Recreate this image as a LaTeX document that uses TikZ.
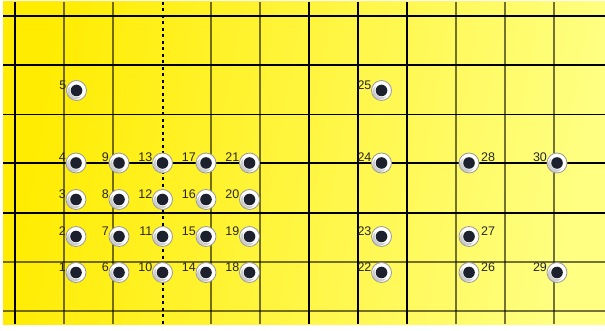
\documentclass[tikz,border=0pt]{standalone}
\usepackage{fontspec}
\setmainfont{Liberation Sans}
\usetikzlibrary{positioning}

\definecolor{plateleft}{RGB}{255,236,0}
\definecolor{platemid}{RGB}{255,252,85}
\definecolor{plateright}{RGB}{255,255,130}
\definecolor{holecore}{RGB}{28,33,45}

\begin{document}
\begin{tikzpicture}[
        x=1pt, y=-1pt,
        gridstrong/.style={
            draw=black,
            line width=1.1pt
        },
        gridfaint/.style={
            draw=black,
            draw opacity=0.55,
            line width=1.6pt
        },
        axisline/.style={
            draw=black,
            line width=2pt,
            dash pattern=on 3pt off 3.5pt
        },
        hole/.style={
            circle,
            draw=black!40,
            line width=0.8pt,
            fill=white,
            minimum size=20pt,
            inner sep=0pt,
            path picture={
                \fill[black!20] ([shift={(-1.6pt,-1.6pt)}]path picture bounding box.center) circle (7.5pt);
                \fill[white] ([shift={(0.8pt,0.8pt)}]path picture bounding box.center) circle (7.5pt);
                \fill[holecore] (path picture bounding box.center) circle (5.8pt);
            }
        },
        numlbl/.style={
            font=\fontsize{12.5}{12.5}\selectfont,
            inner sep=0pt,
            text=black!85
        }
    ]
    \useasboundingbox (0,0) rectangle (605,331);

    % plate
    \shade[left color=plateleft, middle color=platemid, right color=plateright, shading angle=80]
        (3,2) rectangle (605,324);

    % grid
    \foreach \gx in {64,113,211,260,456,505,554}
        \draw[gridfaint] (\gx,2) -- (\gx,324);
    \foreach \gx in {15,309,358,407}
        \draw[gridstrong] (\gx,2) -- (\gx,324);
    \foreach \gy in {262,311}
        \draw[gridfaint] (3,\gy) -- (605,\gy);
    \foreach \gy in {16,65,114.5,163,213}
        \draw[gridstrong] (3,\gy) -- (605,\gy);
    \draw[axisline] (162.5,2) -- (162.5,324);

    % holes, number at the left
    \foreach \n/\hx/\hy in {
        1/76/272.5, 2/76/236.5, 3/76/199.5, 4/76/163, 5/76.5/90.5,
        6/119/272.5, 7/119/236.5, 8/119/199.5, 9/119/163,
        10/162.5/272.5, 11/162.5/236.5, 12/162.5/199.5, 13/162.5/163,
        14/206/272.5, 15/206/236.5, 16/206/199.5, 17/206/163,
        18/249.5/272.5, 19/249.5/236.5, 20/249.5/199.5, 21/249.5/163,
        22/381.5/272.5, 23/381.5/236.5, 24/381.5/163, 25/381.5/90.5,
        29/557/272.5, 30/557/163}
        \node[hole, label={[numlbl, anchor=south east, xshift=0.5pt, yshift=1pt]west:\n}] (h\n) at (\hx,\hy) {};

    % holes, number at the right
    \foreach \n/\hx/\hy in {26/469/272.5, 27/469/236.5, 28/469/163}
        \node[hole, label={[numlbl, anchor=south west, xshift=1.5pt, yshift=1pt]east:\n}] (h\n) at (\hx,\hy) {};
\end{tikzpicture}
\end{document}
